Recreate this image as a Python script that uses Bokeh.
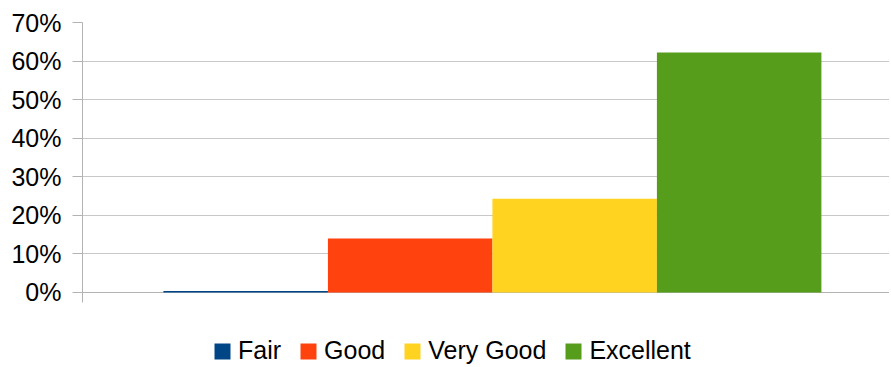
from bokeh.plotting import figure
from bokeh.layouts import column
from bokeh.models import Range1d, FixedTicker, PrintfTickFormatter, Legend, LegendItem, ColumnDataSource
from bokeh.embed import file_html
from bokeh.resources import INLINE

categories = ["Fair", "Good", "Very Good", "Excellent"]
values = [0.4, 14.0, 24.3, 62.2]
colors = ["#004586", "#ff420e", "#ffd320", "#579d1c"]
y_ticks = [0, 10, 20, 30, 40, 50, 60, 70]

FONT = "Liberation Sans"
FS = "25px"
W = 889

p = figure(width=W, height=305, output_backend="svg", toolbar_location=None,
           x_range=Range1d(-0.492, 4.414), y_range=Range1d(0, 70),
           min_border_left=82, min_border_top=22, min_border_right=0, min_border_bottom=13)
p.outline_line_color = None
p.background_fill_color = "white"
p.border_fill_color = "white"

# x axis / grid first so the bars are drawn above the baseline
p.xaxis.ticker = FixedTicker(ticks=[-0.492])
p.xaxis.axis_line_color = "#b3b3b3"
p.xaxis.axis_line_width = 1
p.xaxis.major_tick_line_color = "#b3b3b3"
p.xaxis.major_tick_out = 10
p.xaxis.major_tick_in = 0
p.xaxis.minor_tick_line_color = None
p.xaxis.major_label_text_font_size = "1px"
p.xaxis.major_label_text_color = None
p.xaxis.major_label_standoff = 0

for i, (c, v, col) in enumerate(zip(categories, values, colors)):
    src = ColumnDataSource(dict(x=[i + 0.5], top=[v]))
    p.vbar(x="x", top="top", bottom=0, width=1.0, source=src,
           fill_color=col, line_color=None, level="overlay")

# y axis
p.yaxis.ticker = FixedTicker(ticks=y_ticks)
p.yaxis.formatter = PrintfTickFormatter(format="%d%%")
p.yaxis.axis_line_color = "#b3b3b3"
p.yaxis.major_tick_line_color = "#b3b3b3"
p.yaxis.major_tick_out = 10
p.yaxis.major_tick_in = 0
p.yaxis.minor_tick_line_color = None
p.yaxis.major_label_text_font = FONT
p.yaxis.major_label_text_font_size = FS
p.yaxis.major_label_text_color = "black"
p.yaxis.major_label_standoff = 11

p.xgrid.grid_line_color = None
p.ygrid.grid_line_color = "#c8c8c8"
p.ygrid.grid_line_width = 1

# legend strip (its bars lie outside its visible y range; only the legend shows)
lf = figure(width=W, height=62, output_backend="svg", toolbar_location=None,
            x_range=Range1d(-0.492, 4.414), y_range=Range1d(1000, 1001),
            x_axis_location=None, y_axis_location=None,
            min_border_left=0, min_border_top=0, min_border_right=0, min_border_bottom=0)
lf.outline_line_color = None
lf.xgrid.grid_line_color = None
lf.ygrid.grid_line_color = None

items = []
for i, (c, v, col) in enumerate(zip(categories, values, colors)):
    src = ColumnDataSource(dict(x=[i + 0.5], top=[v]))
    r = lf.vbar(x="x", top="top", bottom=0, width=1.0, source=src,
                fill_color=col, line_color=None)
    items.append(LegendItem(label=c, renderers=[r]))

legend = Legend(items=items, orientation="horizontal", location=(130, 2),
                label_text_font=FONT, label_text_font_size=FS,
                label_text_color="black",
                glyph_width=20, glyph_height=20, label_standoff=6, spacing=17,
                padding=0, margin=0, border_line_color=None,
                background_fill_color=None)
lf.add_layout(legend, "center")

layout = column(p, lf, spacing=0)
open("out.html", "w").write(file_html(layout, INLINE))
